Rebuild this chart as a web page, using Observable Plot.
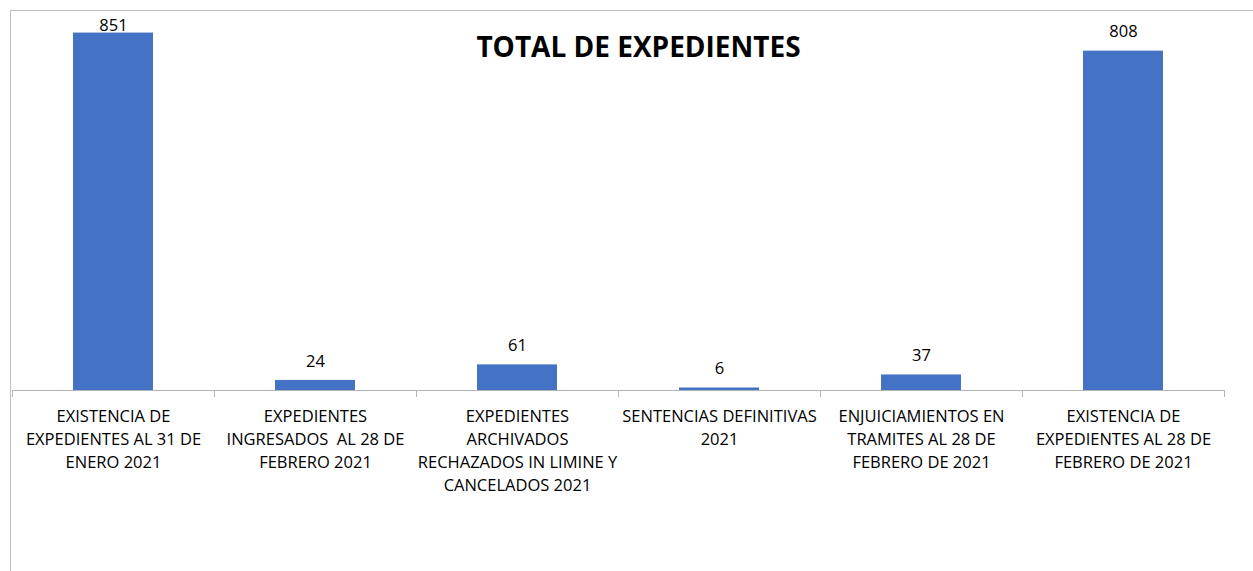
<!DOCTYPE html>
<html>
<head>
<meta charset="utf-8">
<script src="https://cdn.jsdelivr.net/npm/d3@7"></script>
<script src="https://cdn.jsdelivr.net/npm/@observablehq/plot@0.6"></script>
<style>
  html, body { margin: 0; padding: 0; background: #fff; }
  #wrap { position: relative; width: 1253px; height: 571px; overflow: hidden; }
  #frame { position: absolute; left: 10px; top: 10px; width: 1250px; height: 570px;
           border-left: 1px solid #c0c0c0; border-top: 1px solid #c0c0c0; }
  #chart { position: absolute; left: 0; top: 0; }
</style>
</head>
<body>
<div id="wrap"><div id="frame"></div><div id="chart"></div></div>
<script>
const title = "TOTAL DE EXPEDIENTES";
const categories = [
  "EXISTENCIA DE\nEXPEDIENTES AL 31 DE\nENERO 2021",
  "EXPEDIENTES\nINGRESADOS  AL 28 DE\nFEBRERO 2021",
  "EXPEDIENTES\nARCHIVADOS\nRECHAZADOS IN LIMINE Y\nCANCELADOS 2021",
  "SENTENCIAS DEFINITIVAS\n2021",
  "ENJUICIAMIENTOS EN\nTRAMITES AL 28 DE\nFEBRERO DE 2021",
  "EXISTENCIA DE\nEXPEDIENTES AL 28 DE\nFEBRERO DE 2021"
];
const values = [851, 24, 61, 6, 37, 808];

const data = categories.map((c, i) => ({i, label: c, value: values[i]}));
const font = "'Open Sans', Lato, sans-serif";

const chart = Plot.plot({
  width: 1253,
  height: 571,
  marginLeft: 12,
  marginRight: 29,
  marginTop: 12,
  marginBottom: 181,
  style: {background: "transparent", fontFamily: font, color: "#000"},
  x: {domain: [0, categories.length], axis: null},
  y: {domain: [0, 900], axis: null},
  marks: [
    Plot.rect(data, {x1: d => d.i + 0.302, x2: d => d.i + 0.698, y1: 0, y2: "value", fill: "#4472C4"}),
    Plot.ruleY([0], {stroke: "#b4b4b4", strokeWidth: 1}),
    Plot.axisX(d3.range(categories.length + 1), {tickSize: 7, tickFormat: () => "", stroke: "#b4b4b4"}),
    Plot.text(data, {x: d => d.i + 0.5, y: 0, text: "label", lineAnchor: "top", dy: 15,
      lineHeight: 1.394, fontSize: 16.5, fill: "#000"}),
    Plot.text(data, {x: d => d.i + 0.5, y: d => Math.min(d.value, 824), text: d => String(d.value),
      dy: -19, fontSize: 16.5, fill: "#000"}),
    Plot.text([title], {frameAnchor: "top", dx: 20, dy: 25, fontSize: 28, fontWeight: "bold", fill: "#000"})
  ]
});
document.getElementById("chart").appendChild(chart);
</script>
</body>
</html>
